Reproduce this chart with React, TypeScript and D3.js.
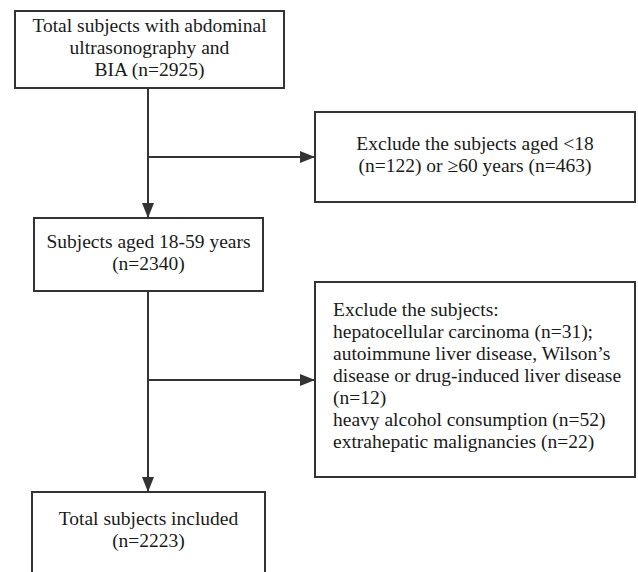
import React, { useEffect, useRef } from 'react';
import * as d3 from 'd3';

// box texts, top to bottom on the main path
const mainBoxes = [
  ['Total subjects with abdominal', 'ultrasonography and', 'BIA (n=2925)'],
  ['Subjects aged 18-59 years', '(n=2340)'],
  ['Total subjects included', '(n=2223)'],
];

// exclusion boxes on the right
const excludeBoxes = [
  ['Exclude the subjects aged <18', '(n=122) or \u226560 years (n=463)'],
  [
    'Exclude the subjects:',
    'hepatocellular carcinoma (n=31);',
    'autoimmune liver disease, Wilson\u2019s',
    'disease or drug-induced liver disease',
    '(n=12)',
    'heavy alcohol consumption (n=52)',
    'extrahepatic malignancies (n=22)',
  ],
];

export default function App() {
  const ref = useRef<HTMLDivElement>(null);

  useEffect(() => {
    const width = 638;
    const height = 572;
    const stroke = '#333';
    const lineH = 22;

    const svg = d3
      .select(ref.current)
      .append('svg')
      .attr('width', width)
      .attr('height', height)
      .style('position', 'absolute')
      .style('left', 0)
      .style('top', 0)
      .style('background', '#fff');

    const defs = svg.append('defs');
    defs
      .append('marker')
      .attr('id', 'arrow')
      .attr('viewBox', '0 0 15 12')
      .attr('refX', 15)
      .attr('refY', 6)
      .attr('markerWidth', 15)
      .attr('markerHeight', 12)
      .attr('markerUnits', 'userSpaceOnUse')
      .attr('orient', 'auto')
      .append('path')
      .attr('d', 'M0,0L15,6L0,12Z')
      .attr('fill', stroke);

    // layout of the boxes (x, y, w, h)
    const mainLayout = [
      { x: 15, y: 11, w: 269, h: 77, first: 32 },
      { x: 34, y: 218, w: 229, h: 73, first: 248 },
      { x: 32, y: 492, w: 233, h: 100, first: 525 },
    ];
    const exLayout = [
      { x: 315, y: 112, w: 320, h: 90, first: 150, align: 'middle' },
      { x: 315, y: 282, w: 320, h: 195, first: 316, align: 'start' },
    ];
    const cx = 148;

    const font = 'Liberation Serif, Times New Roman, serif';

    const drawBox = (lines: string[], b: any, align: string) => {
      const g = svg.append('g');
      g.append('rect')
        .attr('x', b.x)
        .attr('y', b.y)
        .attr('width', b.w)
        .attr('height', b.h)
        .attr('fill', '#fff')
        .attr('stroke', stroke)
        .attr('stroke-width', 2);
      g.selectAll('text')
        .data(lines)
        .enter()
        .append('text')
        .attr('x', align === 'middle' ? b.x + b.w / 2 : b.x + 18)
        .attr('y', (_, i) => b.first + i * lineH)
        .attr('text-anchor', align)
        .attr('font-family', font)
        .attr('font-size', 19.5)
        .attr('fill', '#1a1a1a')
        .text((d) => d);
    };

    // connectors
    const line = (x1: number, y1: number, x2: number, y2: number, arrow: boolean) => {
      svg
        .append('line')
        .attr('x1', x1)
        .attr('y1', y1)
        .attr('x2', x2)
        .attr('y2', y2)
        .attr('stroke', stroke)
        .attr('stroke-width', 2)
        .attr('marker-end', arrow ? 'url(#arrow)' : null);
    };

    line(cx, mainLayout[0].y + mainLayout[0].h, cx, mainLayout[1].y, true);
    line(cx, mainLayout[1].y + mainLayout[1].h, cx, mainLayout[2].y, true);
    line(cx, 157, exLayout[0].x, 157, true);
    line(cx, 380, exLayout[1].x, 380, true);

    mainBoxes.forEach((lines, i) => drawBox(lines, mainLayout[i], 'middle'));
    excludeBoxes.forEach((lines, i) => drawBox(lines, exLayout[i], exLayout[i].align));

    return () => {
      d3.select(ref.current).select('svg').remove();
    };
  }, []);

  return <div ref={ref}></div>;
}
